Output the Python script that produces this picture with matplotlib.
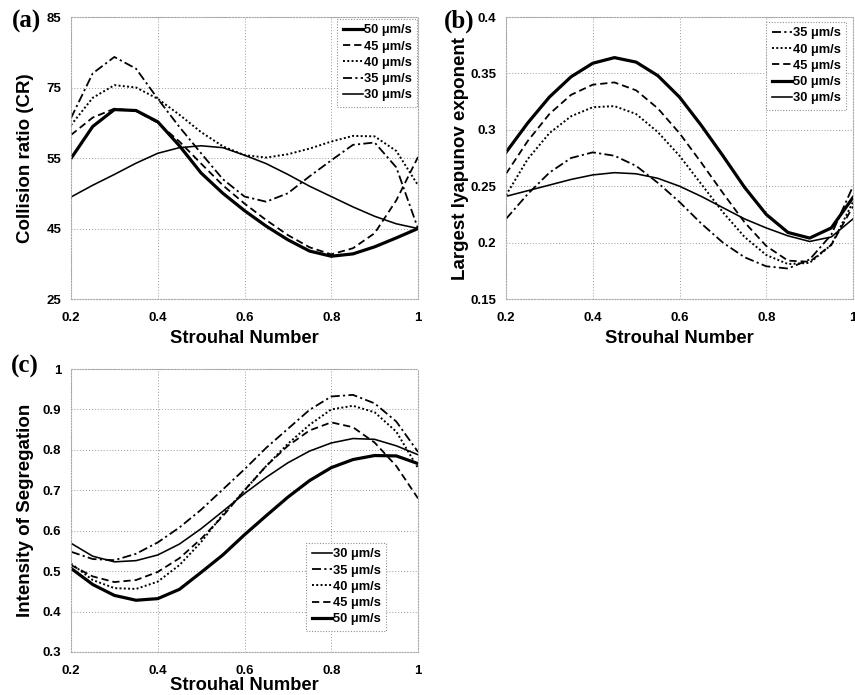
import matplotlib
matplotlib.use("Agg")
import matplotlib.pyplot as plt
import numpy as np

plt.rcParams['font.family'] = ['Liberation Sans', 'DejaVu Sans']

# Strouhal number grid
st = [0.2, 0.25, 0.3, 0.35, 0.4, 0.45, 0.5, 0.55, 0.6, 0.65, 0.7, 0.75, 0.8, 0.85, 0.9, 0.95, 1.0]

# (a) Collision ratio (values on the linear axis 25..85)
cr_50 = [54.9, 61.7, 65.3, 65.1, 62.7, 57.6, 51.8, 47.5, 43.8, 40.5, 37.6, 35.2, 34.1, 34.6, 36.1, 38.0, 40.0]
cr_45 = [59.9, 63.6, 65.5, 65.0, 62.5, 58.5, 53.8, 49.2, 45.3, 41.8, 38.6, 36.0, 34.5, 35.8, 39.0, 46.0, 55.2]
cr_40 = [62.0, 67.8, 70.5, 70.0, 67.6, 64.2, 60.5, 57.5, 55.6, 55.1, 55.8, 57.0, 58.5, 59.7, 59.6, 56.5, 49.2]
cr_35 = [63.5, 73.0, 76.5, 74.0, 67.6, 61.6, 56.0, 50.5, 46.8, 45.7, 47.5, 51.1, 54.5, 57.8, 58.3, 53.0, 40.0]
cr_30 = [46.7, 49.2, 51.5, 53.9, 56.0, 57.2, 57.6, 57.2, 55.6, 53.8, 51.5, 49.0, 46.8, 44.6, 42.6, 41.0, 40.0]
cr_ticks = [25, 40, 55, 70, 85]
cr_ticklabels = ['25', '45', '55', '75', '85']

# (b) Largest Lyapunov exponent
ly_50 = [0.280, 0.306, 0.329, 0.347, 0.359, 0.364, 0.360, 0.348, 0.329, 0.304, 0.277, 0.249, 0.225, 0.209, 0.204, 0.213, 0.240]
ly_45 = [0.261, 0.290, 0.314, 0.331, 0.340, 0.342, 0.335, 0.319, 0.297, 0.271, 0.244, 0.218, 0.197, 0.184, 0.183, 0.198, 0.232]
ly_40 = [0.242, 0.274, 0.297, 0.312, 0.320, 0.321, 0.314, 0.298, 0.277, 0.252, 0.227, 0.205, 0.189, 0.181, 0.182, 0.198, 0.236]
ly_35 = [0.221, 0.243, 0.262, 0.275, 0.280, 0.277, 0.268, 0.253, 0.236, 0.217, 0.200, 0.187, 0.179, 0.177, 0.185, 0.207, 0.250]
ly_30 = [0.241, 0.246, 0.251, 0.256, 0.260, 0.262, 0.261, 0.257, 0.250, 0.241, 0.231, 0.221, 0.213, 0.206, 0.201, 0.205, 0.221]
ly_ticks = [0.15, 0.2, 0.25, 0.3, 0.35, 0.4]
ly_ticklabels = ['0.15', '0.2', '0.25', '0.3', '0.35', '0.4']

# (c) Intensity of segregation
is_30 = [0.569, 0.537, 0.523, 0.526, 0.540, 0.567, 0.605, 0.648, 0.692, 0.732, 0.768, 0.797, 0.817, 0.828, 0.826, 0.810, 0.788]
is_35 = [0.548, 0.530, 0.527, 0.543, 0.571, 0.608, 0.652, 0.702, 0.752, 0.805, 0.852, 0.899, 0.932, 0.936, 0.915, 0.870, 0.795]
is_40 = [0.519, 0.478, 0.458, 0.456, 0.474, 0.515, 0.572, 0.640, 0.700, 0.760, 0.815, 0.862, 0.900, 0.909, 0.893, 0.845, 0.755]
is_45 = [0.515, 0.487, 0.473, 0.478, 0.498, 0.532, 0.580, 0.636, 0.700, 0.760, 0.810, 0.848, 0.868, 0.856, 0.818, 0.760, 0.680]
is_50 = [0.507, 0.467, 0.440, 0.428, 0.432, 0.455, 0.497, 0.540, 0.590, 0.637, 0.683, 0.724, 0.756, 0.776, 0.786, 0.785, 0.766]
is_ticks = [0.3, 0.4, 0.5, 0.6, 0.7, 0.8, 0.9, 1.0]
is_ticklabels = ['0.3', '0.4', '0.5', '0.6', '0.7', '0.8', '0.9', '1']

x_ticks = [0.2, 0.4, 0.6, 0.8, 1.0]
x_ticklabels = ['0.2', '0.4', '0.6', '0.8', '1']

styles = {
    '50': dict(ls='-', lw=2.3, color='black'),
    '45': dict(ls=(0, (4, 2.2)), lw=1.3, color='black'),
    '40': dict(ls=(0, (1.0, 1.2)), lw=1.4, color='black'),
    '35': dict(ls=(0, (5, 1.8, 1.2, 1.8)), lw=1.3, color='black'),
    '30': dict(ls='-', lw=1.15, color='black'),
}

fig = plt.figure(figsize=(8.55, 6.95), dpi=100)
W, H = 855, 695

def add_ax(l, t, r, b):
    return fig.add_axes([l / W, 1 - b / H, (r - l) / W, (b - t) / H])

ax_a = add_ax(71, 17, 418, 299)
ax_b = add_ax(506, 17, 853, 299)
ax_c = add_ax(71, 369, 418, 652)

tick_font = dict(fontsize=9.5, fontweight='bold')

def style_axes(ax, yticks, yticklabels, ylim, xlab_y):
    ax.set_xlim(0.2, 1.0)
    ax.set_ylim(*ylim)
    ax.set_xticks(x_ticks)
    ax.set_xticklabels(x_ticklabels, **tick_font)
    ax.set_yticks(yticks)
    ax.set_yticklabels(yticklabels, **tick_font)
    ax.tick_params(axis='x', length=0, pad=9)
    ax.tick_params(axis='y', length=0, pad=7)
    ax.grid(True, ls=(0, (1, 2)), color='#9a9a9a', lw=0.7)
    for s in ax.spines.values():
        s.set_color('#a8a8a8')
        s.set_linestyle((0, (1, 1.5)))
        s.set_linewidth(0.8)
    ax.set_xlabel('Strouhal Number', fontsize=13.2, fontweight='bold')
    ax.xaxis.set_label_coords(0.5, xlab_y)

ax_lines = {}

series_a = {'50': cr_50, '45': cr_45, '40': cr_40, '35': cr_35, '30': cr_30}
series_b = {'50': ly_50, '45': ly_45, '40': ly_40, '35': ly_35, '30': ly_30}
series_c = {'50': is_50, '45': is_45, '40': is_40, '35': is_35, '30': is_30}

for ax, series in ((ax_a, series_a), (ax_b, series_b), (ax_c, series_c)):
    ax_lines[ax] = {}
    for k, y in series.items():
        ln, = ax.plot(st, y, **styles[k])
        ax_lines[ax][k] = ln

style_axes(ax_a, cr_ticks, cr_ticklabels, (25, 85), -0.11)
style_axes(ax_b, ly_ticks, ly_ticklabels, (0.15, 0.4), -0.11)
style_axes(ax_c, is_ticks, is_ticklabels, (0.3, 1.0), -0.088)

for ax, lab in ((ax_a, 'Collision ratio (CR)'), (ax_b, 'Largest lyapunov exponent'),
                (ax_c, 'Intensity of Segregation')):
    ax.set_ylabel(lab, fontsize=13.5, fontweight='bold')
    ax.yaxis.set_label_coords(-0.106, 0.5)

def pt(ax, px, py):
    bb = ax.get_position()
    return ((px / W - bb.x0) / bb.width, ((1 - py / H) - bb.y0) / bb.height)

def legend(ax, order, anchor):
    handles = [ax_lines[ax][k] for k in order]
    labels = [f'{k} \u03bcm/s' for k in order]
    leg = ax.legend(handles, labels, loc='upper right', bbox_to_anchor=anchor,
                    prop={'weight': 'bold', 'size': 9.3}, handlelength=1.55,
                    handletextpad=0.1, labelspacing=0.33, borderpad=0.4,
                    borderaxespad=0.0, fancybox=False, framealpha=1)
    fr = leg.get_frame()
    fr.set_edgecolor('#909090')
    fr.set_linestyle((0, (1, 1.5)))
    fr.set_linewidth(0.8)

legend(ax_a, ['50', '45', '40', '35', '30'], pt(ax_a, 417, 19))
legend(ax_b, ['35', '40', '45', '50', '30'], pt(ax_b, 846, 22))
legend(ax_c, ['30', '35', '40', '45', '50'], pt(ax_c, 386, 543))

panel_font = dict(fontsize=18, fontweight='bold', family=['Liberation Serif', 'DejaVu Serif'],
                  va='baseline', ha='left')
fig.text(12 / W, 1 - 28 / H, '(a)', **panel_font)
fig.text(444 / W, 1 - 28 / H, '(b)', **panel_font)
fig.text(11 / W, 1 - 373 / H, '(c)', **panel_font)

fig.savefig('out.png', dpi=100)
